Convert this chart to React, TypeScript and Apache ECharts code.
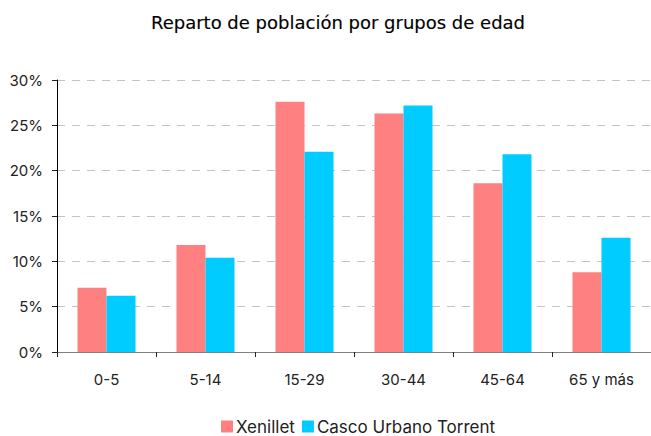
import React, { useEffect, useRef } from "react";
import * as echarts from "echarts";

const categories = ["0-5", "5-14", "15-29", "30-44", "45-64", "65 y más"];
const xenillet = [7.1, 11.8, 27.6, 26.3, 18.6, 8.8];
const cascoUrbano = [6.2, 10.4, 22.1, 27.2, 21.8, 12.6];
const seriesNames = ["Xenillet", "Casco Urbano Torrent"];
const titleText = "Reparto de población por grupos de edad";

export default function App() {
  const ref = useRef<HTMLDivElement>(null);
  useEffect(() => {
    if (!ref.current) return;
    const chart = echarts.init(ref.current, null, { renderer: "svg" });
    const font = "Inter, 'Liberation Sans', Arial, sans-serif";
    chart.setOption({
      animation: false,
      backgroundColor: "#ffffff",
      title: {
        text: titleText,
        left: 333,
        top: 8,
        textAlign: "center",
        textStyle: {
          fontFamily: "'DejaVu Sans', Verdana, sans-serif",
          fontSize: 18,
          fontWeight: "normal",
          color: "#000",
          textBorderColor: "#000",
          textBorderWidth: 0.15,
        },
      },
      legend: {
        data: seriesNames,
        left: 216,
        top: 413,
        itemWidth: 12,
        itemHeight: 12,
        itemGap: 7,
        icon: "rect",
        textStyle: { fontFamily: font, fontSize: 17, color: "#222", padding: [0, 0, 0, -2] },
      },
      grid: { left: 57, top: 80, width: 603, height: 272, containLabel: false },
      xAxis: {
        type: "category",
        data: categories,
        axisLine: { lineStyle: { color: "#808080", width: 1 } },
        axisTick: { show: true, alignWithLabel: false, length: 5, lineStyle: { color: "#222" } },
        axisLabel: { fontFamily: font, fontSize: 15, color: "#222", margin: 20 },
      },
      yAxis: {
        type: "value",
        min: 0,
        max: 30,
        interval: 5,
        axisLine: { show: true, lineStyle: { color: "#000", width: 1 } },
        axisTick: { show: true, length: 5, lineStyle: { color: "#222" } },
        axisLabel: { fontFamily: font, fontSize: 15, color: "#222", margin: 14, formatter: "{value}%" },
        splitLine: { lineStyle: { color: "#c4c4c4", type: [8, 7], width: 1.2 } },
      },
      series: [
        {
          name: seriesNames[0],
          type: "bar",
          data: xenillet,
          barWidth: 29,
          barGap: "0%",
          itemStyle: { color: "#FF8080" },
        },
        {
          name: seriesNames[1],
          type: "bar",
          data: cascoUrbano,
          barWidth: 29,
          barGap: "0%",
          itemStyle: { color: "#00CCFF" },
        },
      ],
    });
    return () => chart.dispose();
  }, []);
  return (
    <div
      ref={ref}
      style={{ position: "fixed", left: 0, top: 0, width: 651, height: 436 }}
    />
  );
}
